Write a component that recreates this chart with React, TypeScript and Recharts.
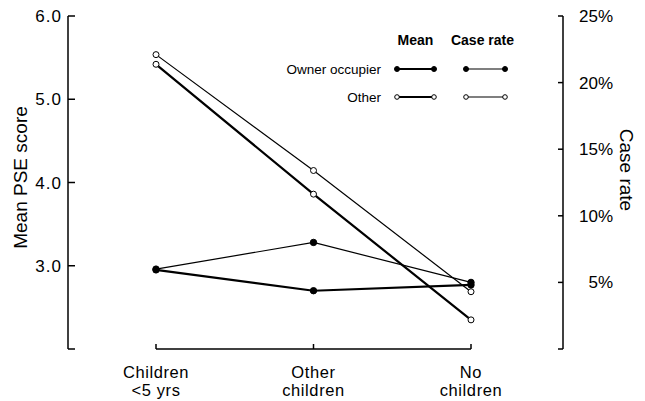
import { LineChart, Line, XAxis, YAxis, ReferenceLine, Legend } from "recharts";

// categories along the bottom
const categories = ["Children <5 yrs", "Other children", "No children"];

// mean PSE score (left axis)
const ownerMean = [2.95, 2.7, 2.77];
const otherMean = [5.42, 3.86, 2.35];

// case rate in % (right axis)
const ownerCaseRate = [6.0, 8.0, 5.0];
const otherCaseRate = [22.1, 13.4, 4.3];

const meanTicks = [2, 3, 4, 5, 6];
const rateTicks = [0, 5, 10, 15, 20, 25];

const FONT = "'Liberation Sans', Arial, Helvetica, sans-serif";

const data = categories.map((category, i) => ({
  category,
  ownerMean: ownerMean[i],
  otherMean: otherMean[i],
  ownerCase: ownerCaseRate[i],
  otherCase: otherCaseRate[i],
}));

interface SeriesConfig {
  key: string;
  group: string;
  measure: string;
  axis: string;
  filled: boolean;
  width: number;
}

const series: SeriesConfig[] = [
  { key: "ownerMean", group: "Owner occupier", measure: "Mean", axis: "mean", filled: true, width: 2.2 },
  { key: "ownerCase", group: "Owner occupier", measure: "Case rate", axis: "rate", filled: true, width: 1.2 },
  { key: "otherMean", group: "Other", measure: "Mean", axis: "mean", filled: false, width: 2.2 },
  { key: "otherCase", group: "Other", measure: "Case rate", axis: "rate", filled: false, width: 1.2 },
];

function CategoryTick({ x, y, payload }: any) {
  const text = String(payload.value);
  const cut = text.indexOf(" ");
  const lines = [text.slice(0, cut), text.slice(cut + 1)];
  return (
    <g>
      <line x1={x} y1={y} x2={x} y2={y - 5} stroke="#000" strokeWidth={1.5} />
      {lines.map((l, i) => (
        <text
          key={i}
          x={x}
          y={y + 29 + i * 18}
          textAnchor="middle"
          fontSize={16.5}
          letterSpacing={0.6}
          fontFamily={FONT}
          fill="#000"
        >
          {l}
        </text>
      ))}
    </g>
  );
}

function MeanTick({ x, y, payload }: any) {
  const v = Number(payload.value);
  return (
    <g>
      <line x1={x} y1={y} x2={x + 7} y2={y} stroke="#000" strokeWidth={1.5} />
      {v !== 2 && (
        <text x={x - 6} y={y + 6} textAnchor="end" fontSize={17} letterSpacing={1} fontFamily={FONT} fill="#000">
          {v.toFixed(1)}
        </text>
      )}
    </g>
  );
}

function RateTick({ x, y, payload }: any) {
  const v = Number(payload.value);
  return (
    <g>
      <line x1={x} y1={y} x2={x - 5} y2={y} stroke="#000" strokeWidth={1.5} />
      {v !== 0 && (
        <text x={x + 50} y={y + 6} textAnchor="end" fontSize={17} fontFamily={FONT} fill="#000">
          {v}%
        </text>
      )}
    </g>
  );
}

function LegendGrid() {
  const groups = Array.from(new Set(series.map((s) => s.group)));
  const measures = Array.from(new Set(series.map((s) => s.measure)));
  const colX = [[397, 434], [466, 505]];
  const rowY = [69, 97];
  return (
    <svg width={645} height={120} style={{ display: "block" }}>
      {measures.map((m, j) => (
        <text
          key={m}
          x={(colX[j][0] + colX[j][1]) / 2 - (j === 1 ? 3 : 0)}
          y={45}
          textAnchor="middle"
          fontSize={14}
          fontWeight="bold"
          fontFamily={FONT}
          fill="#000"
        >
          {m}
        </text>
      ))}
      {groups.map((g, i) => (
        <g key={g}>
          <text x={381} y={rowY[i] + 5} textAnchor="end" fontSize={13.5} fontFamily={FONT} fill="#000">
            {g}
          </text>
          {measures.map((m, j) => {
            const s = series.find((d) => d.group === g && d.measure === m)!;
            const [x1, x2] = colX[j];
            return (
              <g key={m}>
                <line x1={x1} y1={rowY[i]} x2={x2} y2={rowY[i]} stroke="#000" strokeWidth={s.width} />
                {[x1, x2].map((cx) => (
                  <circle key={cx} cx={cx} cy={rowY[i]} r={s.filled ? 2.5 : 2.3} fill={s.filled ? "#000" : "#fff"} stroke="#000" strokeWidth={1} />
                ))}
              </g>
            );
          })}
        </g>
      ))}
    </svg>
  );
}

export default function App() {
  return (
    <div style={{ width: 645, height: 401, background: "#fff" }}>
      <style>{"body{margin:0}"}</style>
      <LineChart width={645} height={401} data={data} margin={{ top: 16, right: 0, bottom: 0, left: 0 }}>
        <XAxis
          dataKey="category"
          height={52}
          axisLine={false}
          tickLine={false}
          tickSize={0}
          tickMargin={0}
          padding={{ left: 88, right: 92 }}
          tick={<CategoryTick />}
          interval={0}
        />
        <YAxis
          yAxisId="mean"
          orientation="left"
          width={68}
          domain={[2, 6]}
          ticks={meanTicks}
          axisLine={{ stroke: "#000", strokeWidth: 1.5 }}
          tickLine={false}
          tickSize={0}
          tickMargin={0}
          tick={<MeanTick />}
          label={{
            content: (props: any) => {
              const vb = props.viewBox;
              return (
                <text
                  transform={`translate(${vb.x + 27},${vb.y + vb.height / 2 - 5}) rotate(-90)`}
                  textAnchor="middle"
                  fontSize={19}
                  fontFamily={FONT}
                  fill="#000"
                >
                  Mean PSE score
                </text>
              );
            },
          }}
        />
        <YAxis
          yAxisId="rate"
          orientation="right"
          width={82}
          domain={[0, 25]}
          ticks={rateTicks}
          axisLine={{ stroke: "#000", strokeWidth: 1.5 }}
          tickLine={false}
          tickSize={0}
          tickMargin={0}
          tick={<RateTick />}
          label={{
            content: (props: any) => {
              const vb = props.viewBox;
              return (
                <text
                  transform={`translate(${vb.x + 57},170) rotate(90)`}
                  textAnchor="middle"
                  fontSize={19}
                  fontFamily={FONT}
                  fill="#000"
                >
                  Case rate
                </text>
              );
            },
          }}
        />
        <ReferenceLine
          yAxisId="mean"
          segment={[
            { x: categories[0], y: 2 },
            { x: categories[categories.length - 1], y: 2 },
          ]}
          stroke="#000"
          strokeWidth={1.5}
          ifOverflow="visible"
        />
        {series.map((s) => (
          <Line
            key={s.key}
            yAxisId={s.axis}
            dataKey={s.key}
            type="linear"
            stroke="#000"
            strokeWidth={s.width}
            dot={{ r: s.filled ? 3.2 : 3, fill: s.filled ? "#000" : "#fff", stroke: "#000", strokeWidth: 1 }}
            isAnimationActive={false}
          />
        ))}
        <Legend
          layout="horizontal"
          verticalAlign="middle"
          align="center"
          wrapperStyle={{ top: 0, left: 0, width: 645, height: 120 }}
          content={() => <LegendGrid />}
        />
      </LineChart>
    </div>
  );
}
